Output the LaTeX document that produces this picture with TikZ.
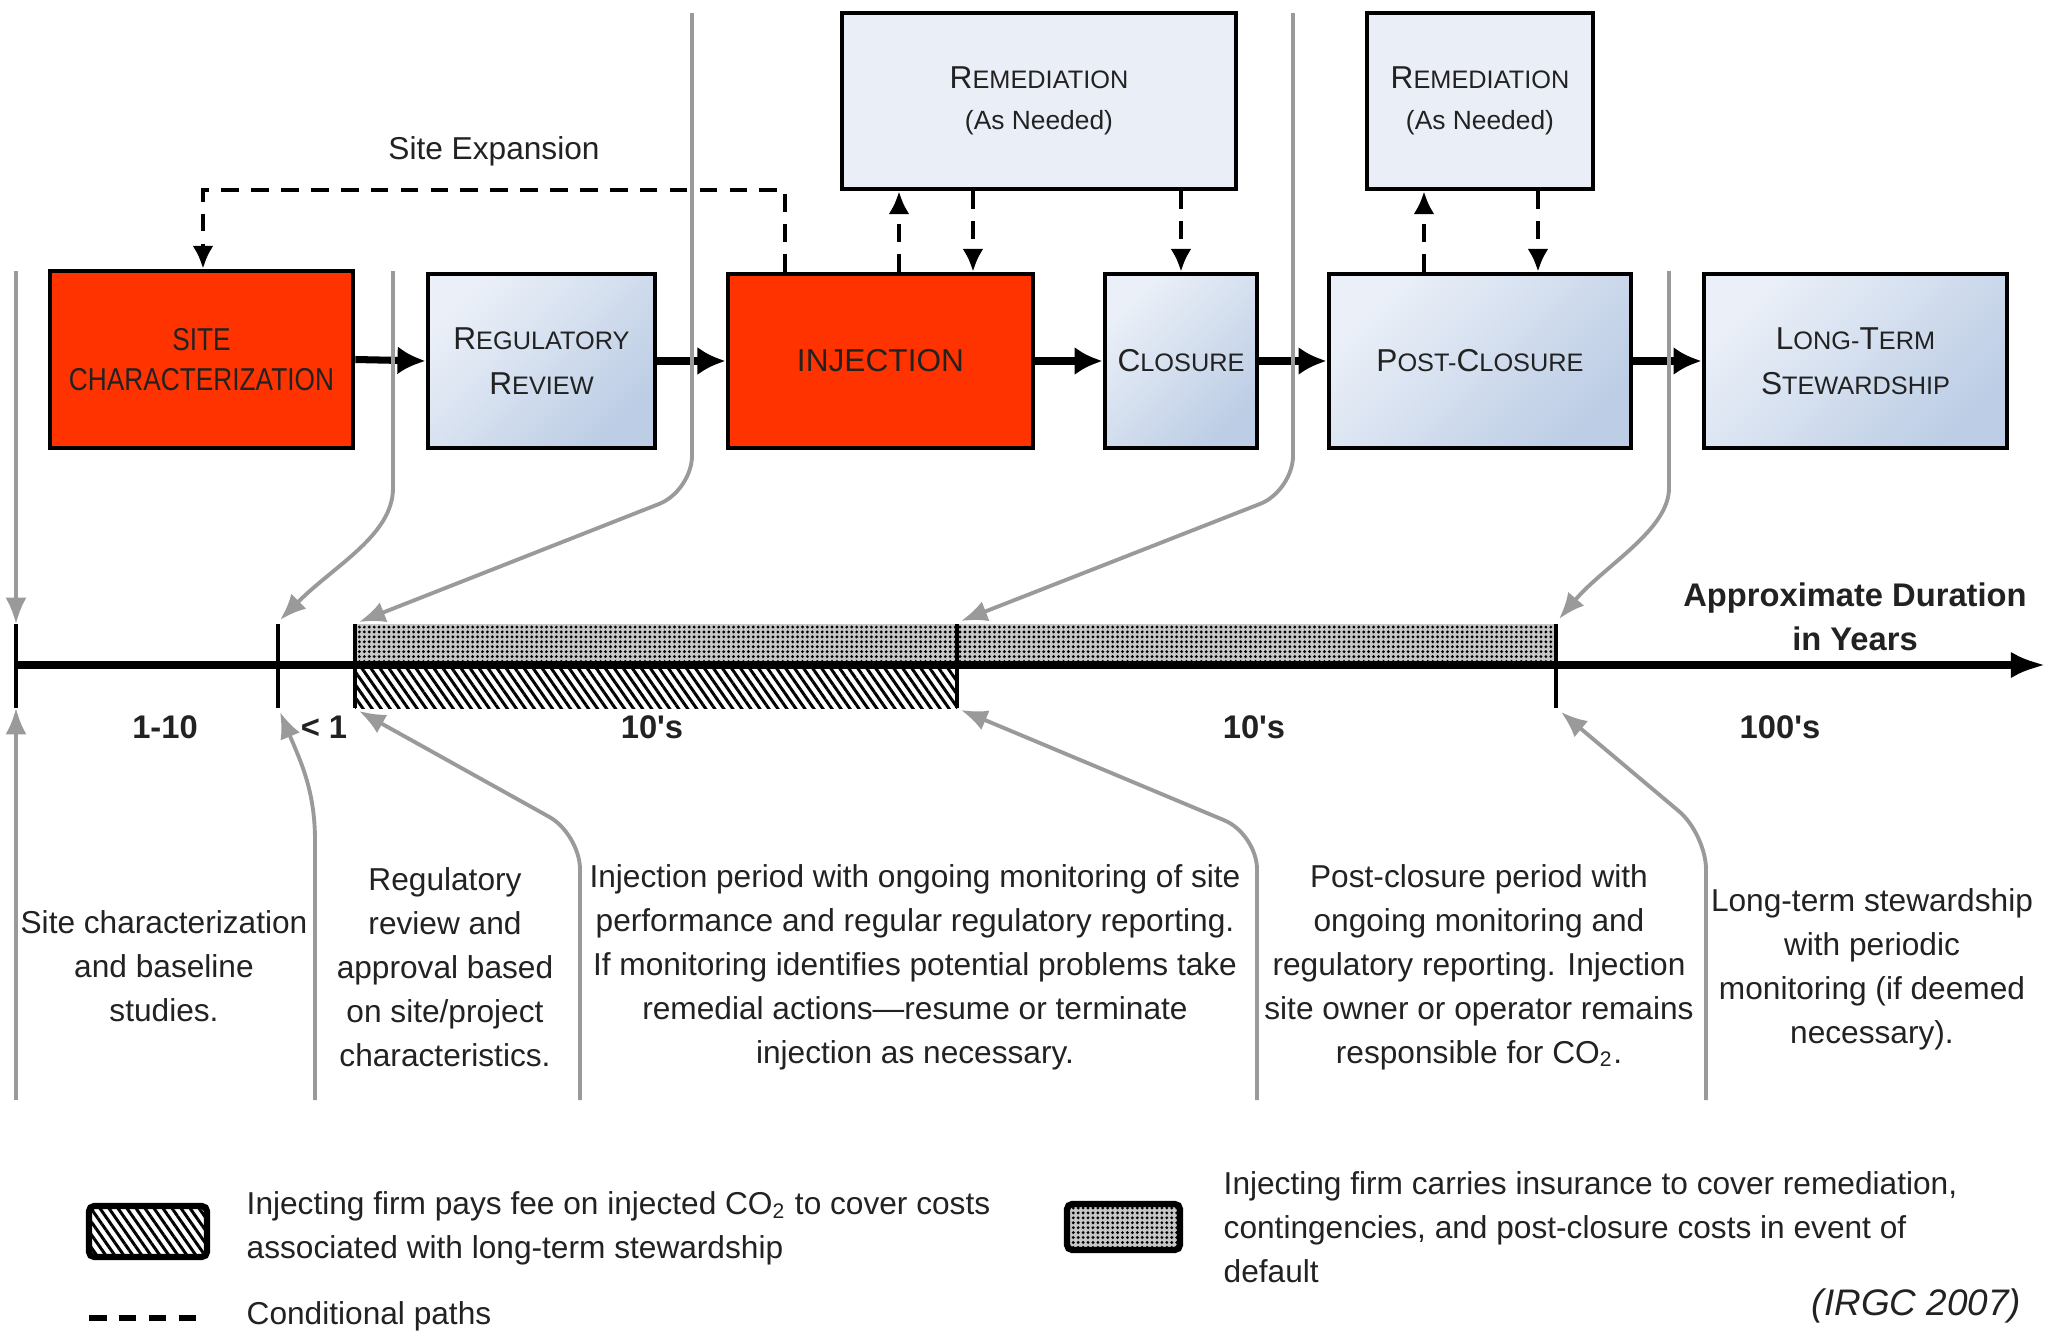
\documentclass[tikz,border=0pt]{standalone}
\usepackage{fontspec}
\setmainfont{Liberation Sans}
\newfontfamily\condf[FakeStretch=0.83]{Liberation Sans}
\usetikzlibrary{arrows.meta,patterns.meta}
\definecolor{redfill}{HTML}{FF3300}
\definecolor{bluelight}{HTML}{EBF0F8}
\definecolor{bluedark}{HTML}{BCCDE5}
\definecolor{remfill}{HTML}{EAEFF7}
\definecolor{gline}{HTML}{9A9A9A}
\definecolor{txt}{HTML}{222222}
\newcommand\SCap[2]{#1{\fontsize{7.2}{8}\selectfont #2}}
\newcommand\apos{\textquotesingle}
\begin{document}
\begin{tikzpicture}[x=0.01cm,y=-0.01cm,
  box/.style={draw=black, line width=1.3pt, inner sep=0pt, align=center, text=txt},
  redbox/.style={box, fill=redfill},
  bluebox/.style={box, top color=bluelight, bottom color=bluedark, shading angle=45, font=\fontsize{9}{12.7}\selectfont},
  rembox/.style={box, fill=remfill, font=\fontsize{9}{11.6}\selectfont},
  flow/.style={line width=2pt, -{Latex[length=8pt,width=8pt]}},
  cond/.style={line width=1.2pt, dash pattern=on 5pt off 3.5pt},
  condarrow/.style={cond, -{Latex[length=6.5pt,width=6pt]}},
  gconn/.style={draw=gline, line width=1.1pt, -{Latex[length=7.5pt,width=6pt]}},
  desc/.style={align=center, font=\fontsize{9}{12.5}\selectfont, inner sep=0pt, text=txt},
  legtext/.style={align=left, anchor=west, font=\fontsize{9}{12.5}\selectfont, inner sep=0pt, text=txt},
  dur/.style={font=\bfseries\fontsize{9.3}{12}\selectfont, inner sep=0pt, text=txt},
  tick/.style={line width=1pt},
  feefill/.style={pattern={Lines[angle=-55,distance=2.1pt,line width=0.85pt]}},
  insbg/.style={fill=black!22},
  insfill/.style={pattern={Dots[distance=1.4pt,radius=0.45pt]}}
]
\path[use as bounding box, fill=white] (0,0) rectangle (2053,1336);

% ---------- boxes ----------
\node[redbox, minimum width=3.03cm, minimum height=1.77cm, font=\condf\fontsize{9}{11.3}\selectfont] (sc) at (201.5,359.5) {SITE\\CHARACTERIZATION};
\node[bluebox, minimum width=2.27cm, minimum height=1.74cm] (rr) at (541.5,361) {\SCap{R}{EGULATORY}\\\SCap{R}{EVIEW}};
\node[redbox, minimum width=3.05cm, minimum height=1.74cm, font=\fontsize{9}{11}\selectfont] (inj) at (880.5,361) {INJECTION};
\node[bluebox, minimum width=1.52cm, minimum height=1.74cm] (clo) at (1181,361) {\SCap{C}{LOSURE}};
\node[bluebox, minimum width=3.02cm, minimum height=1.74cm] (pc) at (1480,361) {\SCap{P}{OST-}\SCap{C}{LOSURE}};
\node[bluebox, minimum width=3.03cm, minimum height=1.74cm] (lts) at (1855.5,361) {\SCap{L}{ONG-}\SCap{T}{ERM}\\\SCap{S}{TEWARDSHIP}};
\node[rembox, minimum width=3.94cm, minimum height=1.76cm] (rem1) at (1039,101) {\SCap{R}{EMEDIATION}\\{\fontsize{7.5}{9}\selectfont(As Needed)}};
\node[rembox, minimum width=2.26cm, minimum height=1.76cm] (rem2) at (1480,101) {\SCap{R}{EMEDIATION}\\{\fontsize{7.5}{9}\selectfont(As Needed)}};

% ---------- flow arrows ----------
\draw[flow] (sc.east) -- (rr.west);
\draw[flow] (rr.east) -- (inj.west);
\draw[flow] (inj.east) -- (clo.west);
\draw[flow] (clo.east) -- (pc.west);
\draw[flow] (pc.east) -- (lts.west);

% ---------- conditional paths ----------
\coordinate (se1) at (785,190);
\coordinate (se2) at (203,190);
\draw[condarrow] (se1 |- inj.north) -- (se1) -- (se2) -- (se2 |- sc.north);
\node[font=\fontsize{9}{11}\selectfont, text=txt, inner sep=0pt] (selab) at (494,151) {Site Expansion};
\coordinate (u1) at (899,0);
\coordinate (d1) at (973,0);
\coordinate (u2) at (1424,0);
\coordinate (d2) at (1538,0);
\draw[condarrow] (u1 |- inj.north) -- (u1 |- rem1.south);
\draw[condarrow] (d1 |- rem1.south) -- (d1 |- inj.north);
\draw[condarrow] (clo.north |- rem1.south) -- (clo.north);
\draw[condarrow] (u2 |- pc.north) -- (u2 |- rem2.south);
\draw[condarrow] (d2 |- rem2.south) -- (d2 |- pc.north);

% ---------- timeline ----------
\coordinate (ax0) at (16,665);
\coordinate (ax1) at (2046,665);
\path[insbg] (355,624) rectangle (1556,665);
\path[insfill] (355,624) rectangle (1556,665);
\path[feefill] (355,665) rectangle (957,708);
\draw[line width=2pt, -{Latex[length=10pt,width=7.5pt]}] (ax0) -- (ax1);
\foreach \n/\x in {0/16,1/278,2/355,3/957,4/1556}{
  \coordinate (t\n t) at (\x,624);
  \coordinate (t\n b) at (\x,708);
  \draw[tick] (t\n t) -- (t\n b);
}
\node[dur] (l1) at (165,727) {1-10};
\node[dur] (l2) at (324,727) {< 1};
\node[dur] (l3) at (652,727) {10\apos s};
\node[dur] (l4) at (1254,727) {10\apos s};
\node[dur] (l5) at (1780,727) {100\apos s};
\node[dur, align=center, font=\bfseries\fontsize{9.3}{12.4}\selectfont] (durlab) at (1855,617) {Approximate Duration\\in Years};

% ---------- grey connectors (top) ----------
\coordinate (g1s) at (16,271);
\coordinate (g2s) at (393,271);  \coordinate (g2k) at (393,488);
\coordinate (g3s) at (692,13);   \coordinate (g3k) at (692,491);
\coordinate (g4s) at (1293,13);  \coordinate (g4k) at (1293,491);
\coordinate (g5s) at (1669,271); \coordinate (g5k) at (1669,488);
\coordinate (a1t) at (280,620);
\coordinate (a2t) at (359,622);
\coordinate (a3t) at (961,621);
\coordinate (a4t) at (1559,619);
\draw[gconn] (g1s) -- (t0t);
\draw[gconn] (g2s) -- (g2k) .. controls (393,535) and (335,565) .. (a1t);
\draw[gconn, rounded corners=10pt] (g3s) -- (g3k) -- (a2t);
\draw[gconn, rounded corners=10pt] (g4s) -- (g4k) -- (a3t);
\draw[gconn] (g5s) -- (g5k) .. controls (1669,530) and (1605,565) .. (a4t);

% ---------- grey connectors (bottom) ----------
\coordinate (b1s) at (16,1100);
\coordinate (b2s) at (315,1100); \coordinate (b2k) at (315,840);
\coordinate (b3s) at (580,1100); \coordinate (b3k) at (580,834);
\coordinate (b4s) at (1257,1100);\coordinate (b4k) at (1257,834);
\coordinate (b5s) at (1706,1100);\coordinate (b5k) at (1706,834);
\coordinate (a1b) at (280,712);
\coordinate (a2b) at (359,711);
\coordinate (a3b) at (961,710);
\coordinate (a4b) at (1561,712);
\draw[gconn] (b1s) -- (t0b);
\draw[gconn] (b2s) -- (b2k) .. controls (315,790) and (300,760) .. (a1b);
\draw[gconn, rounded corners=10pt] (b3s) -- (b3k) -- (a2b);
\draw[gconn, rounded corners=10pt] (b4s) -- (b4k) -- (a3b);
\draw[gconn, rounded corners=10pt] (b5s) -- (b5k) -- (a4b);

% ---------- descriptions ----------
\node[desc] (d1t) at (164,966) {Site characterization\\and baseline\\studies.};
\node[desc] (d2t) at (445,967) {Regulatory\\review and\\approval based\\on site/project\\characteristics.};
\node[desc] (d3t) at (915,967) {Injection period with ongoing monitoring of site\\performance and regular regulatory reporting.\\If monitoring identifies potential problems take\\remedial actions—resume or terminate\\injection as necessary.};
\node[desc] (d4t) at (1479,967) {Post-closure period with\\ongoing monitoring and\\regulatory reporting. Injection\\site owner or operator remains\\responsible for CO\textsubscript{2}.};
\node[desc] (d5t) at (1872,969) {Long-term stewardship\\with periodic\\monitoring (if deemed\\necessary).};

% ---------- legend ----------
\path[fill=white] (89,1206) rectangle (207,1257);
\path[feefill] (89,1206) rectangle (207,1257);
\draw[line width=1.8pt, rounded corners=1.5pt] (89,1206) rectangle (207,1257);
\node[legtext] (lg1) at (246,1228) {Injecting firm pays fee on injected CO\textsubscript{2} to cover costs\\associated with long-term stewardship};
\path[insbg] (1067,1204) rectangle (1180,1250);
\path[insfill] (1067,1204) rectangle (1180,1250);
\draw[line width=1.8pt, rounded corners=1.5pt] (1067,1204) rectangle (1180,1250);
\node[legtext] (lg2) at (1223,1227) {Injecting firm carries insurance to cover remediation,\\contingencies, and post-closure costs in event of\\default};
\coordinate (lc1) at (89,1318);
\coordinate (lc2) at (207,1318);
\draw[cond, line width=1.6pt] (lc1) -- (lc2);
\node[legtext] (lg3) at (246,1316) {Conditional paths};
\node[anchor=east, inner sep=0pt, text=txt, font=\itshape\fontsize{10.5}{12}\selectfont] (cite) at (2022,1306) {(IRGC 2007)};
\end{tikzpicture}
\end{document}
